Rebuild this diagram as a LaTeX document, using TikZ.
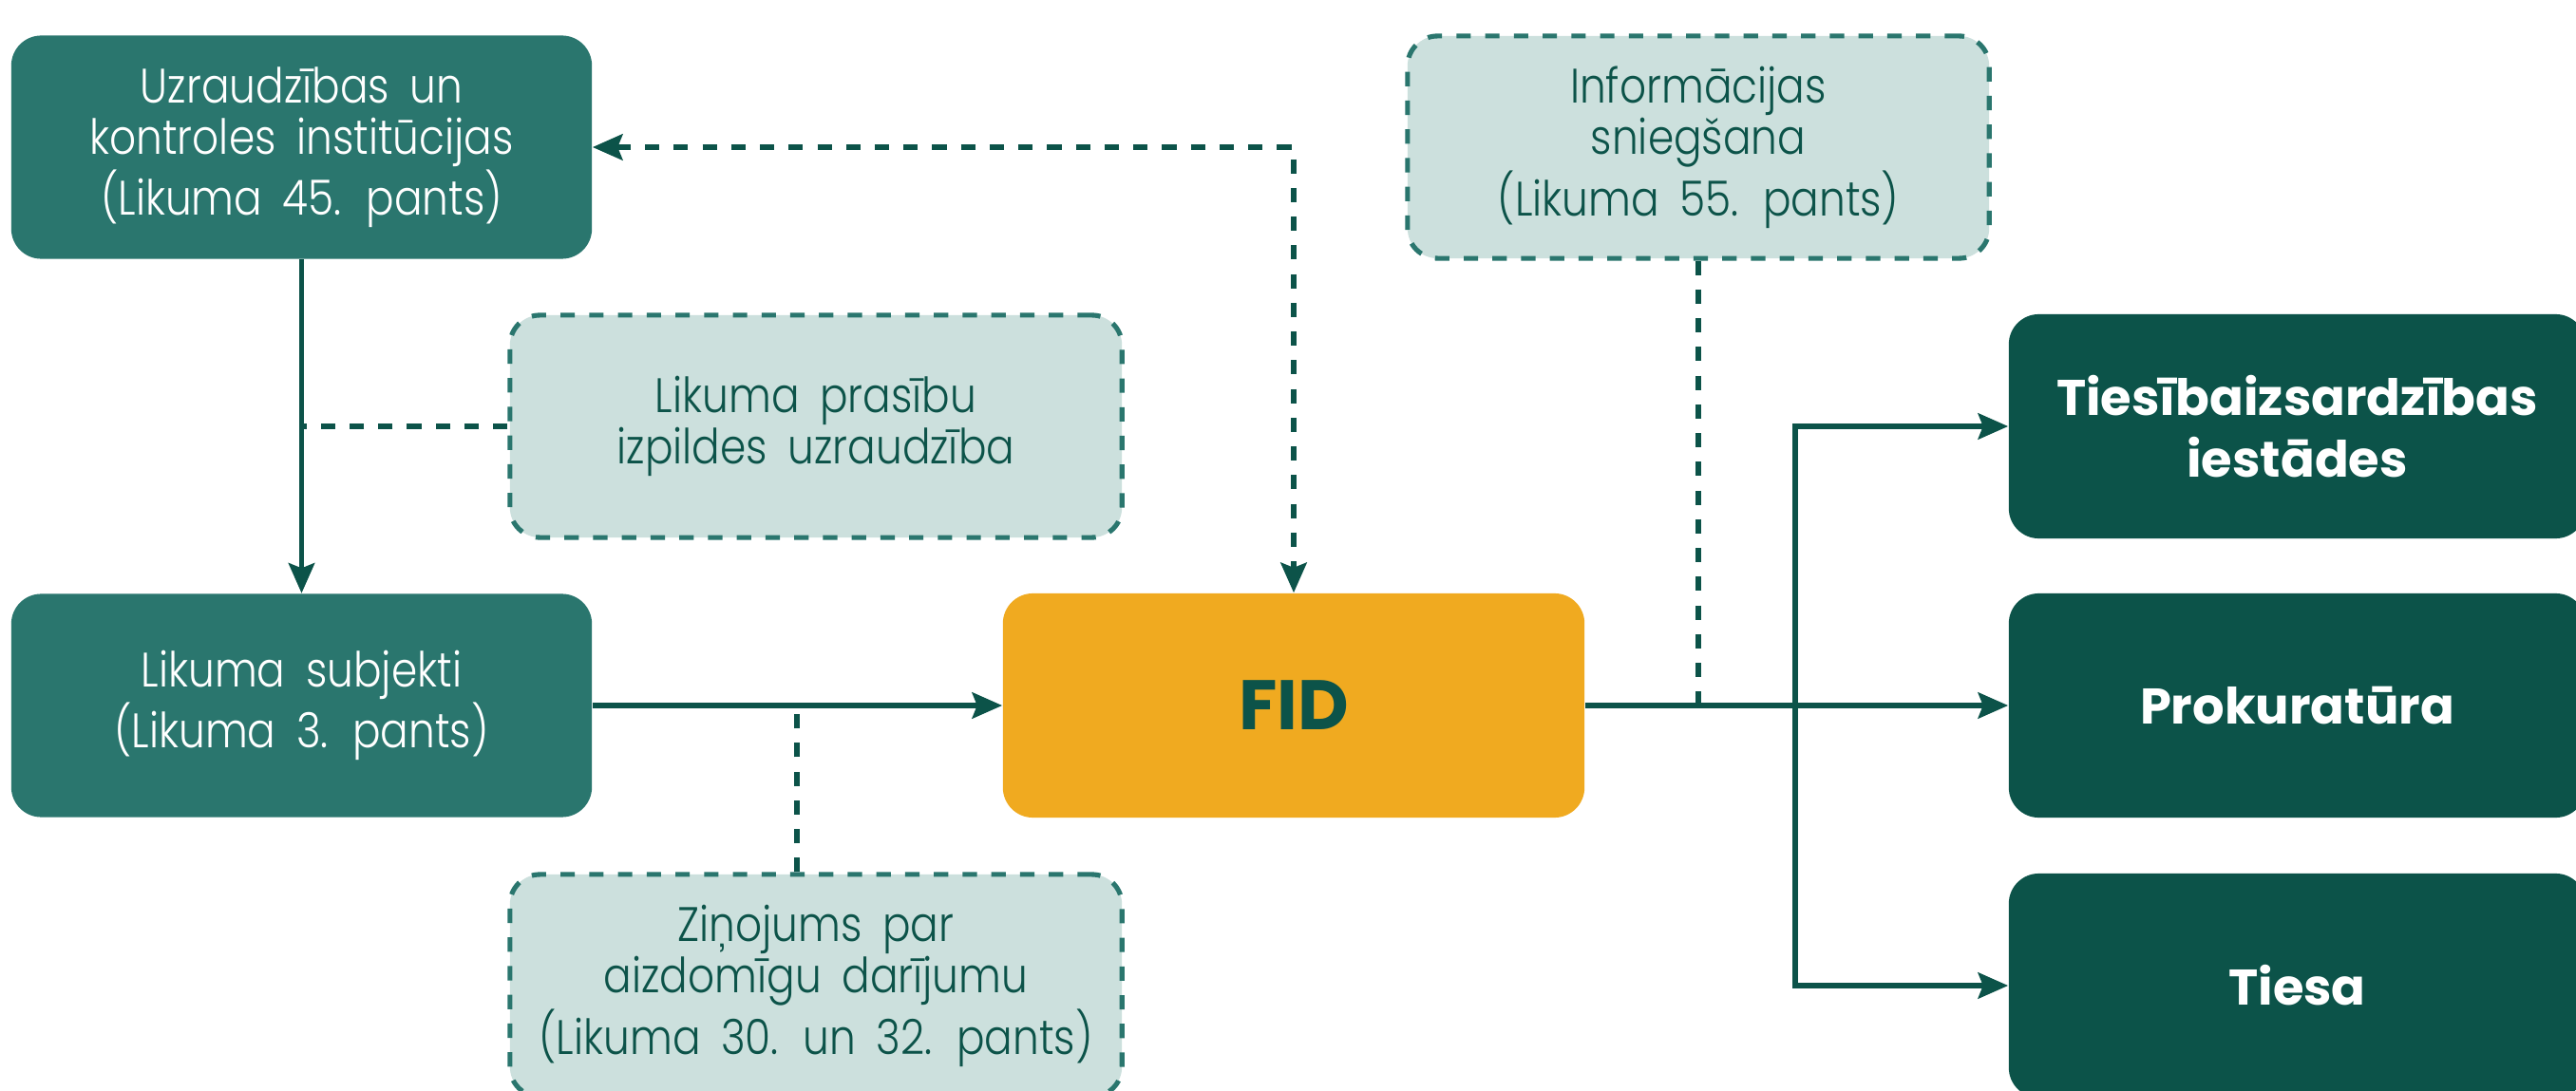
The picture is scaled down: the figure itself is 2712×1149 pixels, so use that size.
\documentclass[tikz,border=0pt]{standalone}
\usepackage{fontspec}
\setmainfont{Poppins}
\newfontfamily\lightfont{Poppins}[UprightFont=* Light, FakeStretch=0.86, WordSpace=1.8]
\usetikzlibrary{arrows.meta}
\definecolor{tealc}{HTML}{2A766E}
\definecolor{darkc}{HTML}{0C5349}
\definecolor{fidc}{HTML}{F0AA20}
\definecolor{lightc}{HTML}{CCE0DD}
\tikzset{
  basebox/.style={rounded corners=9pt, align=center, inner sep=0pt},
  tealbox/.style={basebox, fill=tealc, text=white, minimum width=6.11cm, minimum height=2.35cm,
    font=\lightfont\fontsize{14.5pt}{15.4pt}\selectfont},
  lightbox/.style={basebox, fill=lightc, draw=tealc, line width=1.45pt, dash pattern=on 4.3pt off 4.3pt,
    text=darkc, minimum width=6.44cm, minimum height=2.34cm,
    font=\lightfont\fontsize{14.5pt}{15.4pt}\selectfont},
  darkbox/.style={basebox, fill=darkc, text=white, minimum width=6.07cm, minimum height=2.36cm,
    font=\bfseries\fontsize{15pt}{18.7pt}\selectfont},
  fidbox/.style={basebox, fill=fidc, text=darkc, minimum width=6.12cm, minimum height=2.36cm,
    font=\bfseries\fontsize{21pt}{25pt}\selectfont},
  conn/.style={draw=darkc, line width=1.45pt},
  dconn/.style={draw=darkc, line width=1.45pt, dash pattern=on 4.3pt off 4.3pt},
  tip/.tip={Stealth[length=9pt, width=7.8pt, inset=1.5pt]},
}
\begin{document}
\begin{tikzpicture}[x=0.01cm, y=-0.01cm]
\useasboundingbox (0,0) rectangle (2712,1149);
\fill[white] (0,0) rectangle (2712,1149);

\node[tealbox] (A) at (317.5,155) {Uzraudzības un\\kontroles institūcijas\\(Likuma 45. pants)};
\node[lightbox] (B) at (859,449) {Likuma prasību\\izpildes uzraudzība};
\node[tealbox] (C) at (317.5,743) {Likuma subjekti\\(Likuma 3. pants)};
\node[lightbox] (F) at (859,1038) {Ziņojums par\\aizdomīgu darījumu\\(Likuma 30. un 32. pants)};
\node[fidbox] (D) at (1362,743) {FID};
\node[lightbox, minimum width=6.12cm] (E) at (1788,155) {Informācijas\\sniegšana\\(Likuma 55. pants)};
\node[darkbox] (G) at (2418.5,449) {Tiesībaizsardzības\\iestādes};
\node[darkbox] (H) at (2418.5,743) {Prokuratūra};
\node[darkbox] (I) at (2418.5,1038) {Tiesa};

% A -> C
\draw[conn, -tip] (A.south) -- (C.north);
\coordinate (jB) at (A.south |- B.west);
\draw[dconn] (B.west) -- (jB);

% A <-> D
\coordinate (cAD) at (D.north |- A.east);
\draw[dconn, tip-tip] (A.east) -- (cAD) -- (D.north);

% C -> D
\draw[conn, -tip] (C.east) -- (D.west);
\coordinate (jF) at (839,743);
\draw[dconn] (jF |- F.north) -- (jF);

% E -> line
\coordinate (jE) at (E.south |- D.east);
\draw[dconn] (E.south) -- (jE);

% D -> outputs
\coordinate (split) at (1890,743);
\draw[conn] (D.east) -- (split);
\draw[conn, -tip] (split) |- (G.west);
\draw[conn, -tip] (split) -- (H.west);
\draw[conn, -tip] (split) |- (I.west);
\end{tikzpicture}
\end{document}
